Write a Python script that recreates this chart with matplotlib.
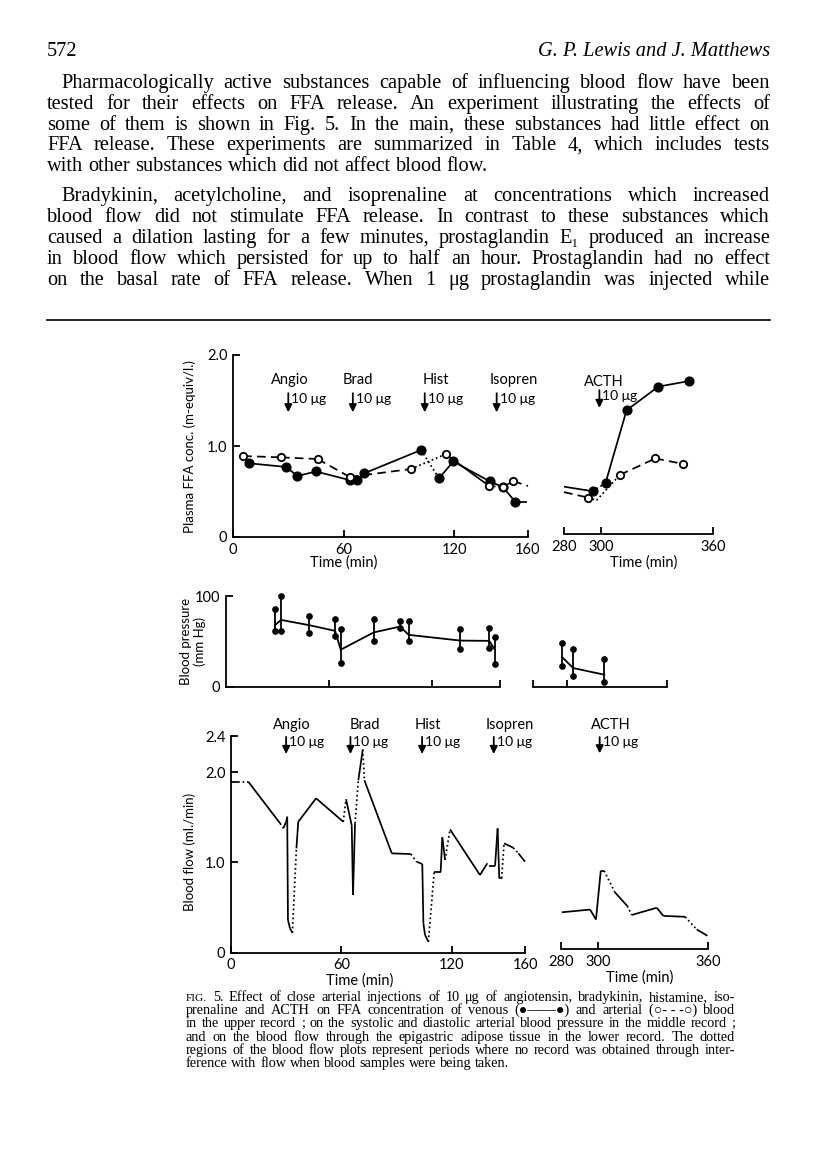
import numpy as np
import matplotlib.pyplot as plt

W, H = 816, 1164
SERIF = ['Liberation Serif', 'DejaVu Serif']
SANS = ['Lato', 'DejaVu Sans']
plt.rcParams['font.family'] = SANS

# ---------------- data ----------------
inj_t = [30, 65, 104, 143]
inj_names = ['Angio', 'Brad', 'Hist', 'Isopren']
acth_t = 299

# plasma FFA, venous (filled) and arterial (open), first record 0-160 min
ven_t = [8.6, 28.8, 34.9, 45.0, 63.3, 67.5, 71.2, 102.0, 111.7, 119.5, 139.4, 146.6, 152.9, 159.5]
ven_v = [0.81, 0.77, 0.67, 0.72, 0.625, 0.625, 0.70, 0.956, 0.645, 0.83, 0.61, 0.546, 0.39, 0.39]
ven_mark = [1] * 13 + [0]
ven_ls = ['-'] * 7 + [':'] + ['-'] * 5
art_t = [5.5, 26.0, 45.9, 63.3, 96.5, 115.3, 139.0, 146.6, 152.0, 160.0]
art_v = [0.89, 0.875, 0.857, 0.66, 0.747, 0.91, 0.56, 0.55, 0.615, 0.56]
art_mark = [1] * 9 + [0]
art_ls = ['--', '--', '--', '--', ':', '-', ':', '-', '--']

# plasma FFA, ACTH period 280-360 min
ven2_t = [280, 295.4, 302.3, 313.6, 330.7, 347.0]
ven2_v = [0.52, 0.47, 0.56, 1.36, 1.62, 1.68]
ven2_mark = [0, 1, 1, 1, 1, 1]
ven2_ls = ['-', ':', '-', '-', '-']
art2_t = [280, 293.0, 297.5, 310.0, 329.0, 344.0]
art2_v = [0.46, 0.40, 0.37, 0.65, 0.83, 0.77]
art2_mark = [0, 1, 0, 1, 1, 1]
art2_ls = ['--', ':', ':', '--', '--']

# blood pressure (mm Hg): systolic, diastolic, mean
bp_t = [28.6, 32.2, 48.4, 63.7, 67.0, 86.3, 101.6, 106.7, 136.9, 153.7, 157.0]
bp_sys = [85.8, 100, 78, 75, 64, 74.5, 72, 72, 63.5, 65.3, 54.7]
bp_dia = [61.7, 61.7, 59, 55.5, 26.3, 51, 64.6, 50.7, 42, 43.4, 25.5]
bp_mean = [68, 73.7, 68, 61.7, 41, 60, 66.4, 57.3, 51, 50.7, 41]
bp2_t = [297.4, 304.0, 322.6]
bp2_sys = [48.2, 41.6, 30.7]
bp2_dia = [23.4, 11.7, 5.1]
bp2_mean = [32.8, 20.8, 13.5]

# blood flow (ml./min); style of the piece leading to the next point (None = gap)
flow_t = [0.0, 4.0, 9.4, 26.7, 28.5, 30.0, 30.6, 31.0, 32.1, 33.4, 35.6, 36.6, 46.3, 61.1,
          62.6, 65.7, 66.4, 67.5, 69.3, 71.7, 72.6, 87.5, 97.8, 101.0, 104.1, 104.7, 105.6,
          107.4, 110.6, 114.1, 115.0, 116.5, 119.2, 135.5, 139.5, 140.6, 143.7, 145.1, 146.0,
          147.3, 148.6, 153.6, 156.4, 160.0]
flow_v = [1.894, 1.894, 1.894, 1.433, 1.378, 1.45, 1.506, 0.362, 0.27, 0.22, 1.156, 1.45, 1.71, 1.45,
          1.70, 1.41, 0.64, 1.43, 1.91, 2.25, 1.91, 1.10, 1.093, 1.008, 0.982, 0.325, 0.196,
          0.122, 0.897, 0.897, 1.278, 1.027, 1.366, 0.86, 0.99, 0.96, 0.96, 1.377, 0.824,
          0.824, 1.211, 1.163, 1.10, 1.008]
flow_ls = ['-', ':', '-', ':', '-', '-', '-', '-', '-', ':', '-', '-', '-', ':',
           '-', '-', '-', ':', '-', ':', '-', '-', ':', '-', '-', '-', '-',
           ':', '-', '-', '-', ':', '-', '-', None, '-', '-', '-', '-',
           ':', '-', ':', '-']
flow2_t = [280.4, 295.8, 299.0, 301.6, 303.4, 309.3, 316.0, 318.4, 332.0, 335.6, 347.4, 353.7, 359.5]
flow2_v = [0.41, 0.44, 0.33, 0.87, 0.87, 0.63, 0.48, 0.38, 0.46, 0.37, 0.36, 0.22, 0.15]
flow2_ls = ['-', '-', '-', '-', ':', '-', ':', '-', '-', '-', ':', '-']

header_left = '572'
header_right = 'G. P. Lewis and J. Matthews'
para1 = [
    'Pharmacologically active substances capable of influencing blood flow have been',
    'tested for their effects on FFA release.  An experiment illustrating the effects of',
    'some of them is shown in Fig. 5.  In the main, these substances had little effect on',
    'FFA release.  These experiments are summarized in Table 4, which includes tests',
    'with other substances which did not affect blood flow.',
]
para2 = [
    'Bradykinin, acetylcholine, and isoprenaline at concentrations which increased',
    'blood flow did not stimulate FFA release.  In contrast to these substances which',
    'caused a dilation lasting for a few minutes, prostaglandin E\u2081 produced an increase',
    'in blood flow which persisted for up to half an hour.  Prostaglandin had no effect',
    'on the basal rate of FFA release.  When 1 \u03bcg prostaglandin was injected while',
]
caption = [
    'FIG. 5.  Effect of close arterial injections of 10 \u03bcg of angiotensin, bradykinin, histamine, iso-',
    'prenaline and ACTH on FFA concentration of venous (\u25cf\u2014\u2014\u25cf) and arterial (\u25cb-\u00a0-\u00a0-\u25cb) blood',
    'in the upper record ; on the systolic and diastolic arterial blood pressure in the middle record ;',
    'and on the blood flow through the epigastric adipose tissue in the lower record.  The dotted',
    'regions of the blood flow plots represent periods where no record was obtained through inter-',
    'ference with flow when blood samples were being taken.',
]

# ---------------- page ----------------
fig = plt.figure(figsize=(W / 100, H / 100), dpi=100)
renderer = fig.canvas.get_renderer()


def ax_px(l, t, r, b):
    return fig.add_axes([l / W, 1 - b / H, (r - l) / W, (b - t) / H])


def words_of(line):
    return [w for w in line.split(' ') if w]


def word_size(w, size):
    return size * 0.8 if w == 'FIG.' else size


def natural_width(line, size):
    tot = 0
    ws = words_of(line)
    for w in ws:
        t = fig.text(0, 0, w, fontsize=word_size(w, size), family=SERIF)
        tot += t.get_window_extent(renderer).width
        t.remove()
    return tot + (len(ws) - 1) * size * 100 / 72 * 0.25


def fit_size(lines, widths, ref=12.0):
    return min(ref * wd / natural_width(ln, ref) for ln, wd in zip(lines, widths))


def put_line(line, x0, x1, yb, size, justify):
    words = words_of(line)
    objs = [fig.text(0, 1 - yb / H, w, fontsize=word_size(w, size), family=SERIF, va='baseline')
            for w in words]
    widths = [o.get_window_extent(renderer).width for o in objs]
    if justify and len(words) > 1:
        gap = (x1 - x0 - sum(widths)) / (len(words) - 1)
    else:
        gap = size * 100 / 72 * 0.25
    x = x0
    for o, w in zip(objs, widths):
        o.set_x(x / W)
        x += w + gap


body_lines = para1[:-1] + para2
body_w = [770 - (61 if ln in (para1[0], para2[0]) else 47) for ln in body_lines]
body_size = fit_size(body_lines, body_w) * 0.94
cap_size = fit_size(caption[:-1], [735 - 186] * (len(caption) - 1)) * 0.97

fig.text(47 / W, 1 - 56 / H, header_left, fontsize=body_size, family=SERIF, va='baseline')
fig.text(770 / W, 1 - 56 / H, header_right, fontsize=body_size, family=SERIF, style='italic',
         va='baseline', ha='right')

for i, line in enumerate(para1):
    put_line(line, 61 if i == 0 else 47, 770, 88 + i * 20.8, body_size, i < len(para1) - 1)
for i, line in enumerate(para2):
    put_line(line, 61 if i == 0 else 47, 770, 201 + i * 20.9, body_size, True)

fig.add_artist(plt.Line2D([47 / W, 770 / W], [1 - 320 / H] * 2, color='k', lw=1.2))

for i, line in enumerate(caption):
    put_line(line, 186, 735, 1001 + i * 13.2, cap_size, i < len(caption) - 1)


# ---------------- helpers ----------------
def seg_plot(ax, t, v, styles, lw=1.25):
    for i, s in enumerate(styles):
        if s is None:
            continue
        kw = dict(color='k', lw=lw, solid_capstyle='butt', clip_on=False)
        if s == '--':
            kw['dashes'] = (5, 3)
        elif s == ':':
            kw['dashes'] = (1, 1.6)
        ax.plot(t[i:i + 2], v[i:i + 2], **kw)


def marks(ax, t, v, mask, filled):
    tt = [a for a, m in zip(t, mask) if m]
    vv = [b for b, m in zip(v, mask) if m]
    if filled:
        ax.plot(tt, vv, 'o', color='k', ms=6.3, zorder=5, clip_on=False)
    else:
        ax.plot(tt, vv, 'o', mfc='white', mec='k', mew=1.3, ms=5.3, zorder=6, clip_on=False)


def style_axes(ax, left=True):
    for s in ['top', 'right']:
        ax.spines[s].set_visible(False)
    ax.spines['left'].set_visible(left)
    for s in ['left', 'bottom']:
        ax.spines[s].set_linewidth(1.3)
    ax.tick_params(direction='in', length=5, width=1.3, labelsize=10.5, pad=4)
    if not left:
        ax.tick_params(axis='y', left=False, labelleft=False)
    ax.set_facecolor('none')


def inject(ax, t, name, y_lab, y_top, y_bot, lab_dx, dose_dx=1.6):
    ax.text(t + lab_dx, y_lab, name, ha='center', va='center', fontsize=10.5, clip_on=False)
    ax.annotate('', xy=(t, y_bot), xytext=(t, y_top), annotation_clip=False,
                arrowprops=dict(arrowstyle='-|>,head_width=0.22,head_length=0.45', color='k',
                                lw=1.3, shrinkA=0, shrinkB=0))
    ax.text(t + dose_dx, y_top - (y_top - y_bot) * 0.3, '10 \u03bcg', ha='left', va='center',
            fontsize=10, clip_on=False, family=SANS)


# ---------------- FFA ----------------
ax1 = ax_px(233, 355, 528, 537)
style_axes(ax1)
ax1.set_xlim(0, 160)
ax1.set_ylim(0, 2)
ax1.set_xticks([0, 60, 120, 160])
ax1.set_xticklabels(['0', '60', '120', '160'])
ax1.set_yticks([0, 1, 2])
ax1.set_yticklabels(['0', '1.0', '2.0'])
seg_plot(ax1, art_t, art_v, art_ls)
seg_plot(ax1, ven_t, ven_v, ven_ls)
marks(ax1, ven_t, ven_v, ven_mark, True)
marks(ax1, art_t, art_v, art_mark, False)
for t, n, dx in zip(inj_t, inj_names, [1.0, 2.5, 6.0, 9.5]):
    inject(ax1, t, n, 1.725, 1.58, 1.37, dx)
fig.text(190 / W, 1 - 447 / H, 'Plasma FFA conc. (m-equiv/l.)', rotation=90, ha='center',
         va='center', fontsize=9.5)
ax1.text(60, -0.28, 'Time (min)', ha='center', va='center', fontsize=10.5)

ax2 = ax_px(564, 352, 713, 534)
style_axes(ax2, left=False)
ax2.set_xlim(280, 360)
ax2.set_ylim(0, 2)
ax2.set_xticks([280, 300, 360])
ax2.set_xticklabels(['280', '300', '360'])
seg_plot(ax2, art2_t, art2_v, art2_ls)
seg_plot(ax2, ven2_t, ven2_v, ven2_ls)
marks(ax2, ven2_t, ven2_v, ven2_mark, True)
marks(ax2, art2_t, art2_v, art2_mark, False)
inject(ax2, acth_t, 'ACTH', 1.67, 1.58, 1.385, 2.5)
ax2.text(323, -0.31, 'Time (min)', ha='center', va='center', fontsize=10.5)

# ---------------- blood pressure ----------------
ax3 = ax_px(226, 596, 500, 687)
style_axes(ax3)
ax3.set_xlim(0, 160)
ax3.set_ylim(0, 100)
ax3.set_xticks([60, 120, 160])
ax3.set_xticklabels([])
ax3.set_yticks([0, 100])
ax3.set_yticklabels(['0', '100'])
ax3.vlines(bp_t, bp_dia, bp_sys, color='k', lw=1.3)
ax3.plot(bp_t, bp_sys, 'o', color='k', ms=3.8, clip_on=False)
ax3.plot(bp_t, bp_dia, 'o', color='k', ms=3.8, clip_on=False)
ax3.plot(bp_t, bp_mean, '-', color='k', lw=1.3)
fig.text(186 / W, 1 - 641 / H, 'Blood pressure', rotation=90, ha='center', va='center',
         fontsize=9.5)
fig.text(200 / W, 1 - 641 / H, '(mm Hg)', rotation=90, ha='center', va='center', fontsize=9.5)

ax4 = ax_px(533, 596, 667, 687)
style_axes(ax4, left=False)
ax4.set_xlim(280, 360)
ax4.set_ylim(0, 100)
ax4.set_xticks([280, 300, 360])
ax4.set_xticklabels([])
ax4.vlines(bp2_t, bp2_dia, bp2_sys, color='k', lw=1.3)
ax4.plot(bp2_t, bp2_sys, 'o', color='k', ms=3.8, clip_on=False)
ax4.plot(bp2_t, bp2_dia, 'o', color='k', ms=3.8, clip_on=False)
ax4.plot(bp2_t, bp2_mean, '-', color='k', lw=1.3)

# ---------------- blood flow ----------------
ax5 = ax_px(231, 736, 525, 952.7)
style_axes(ax5)
ax5.set_xlim(0, 160)
ax5.set_ylim(0, 2.4)
ax5.set_xticks([0, 60, 120, 160])
ax5.set_xticklabels(['0', '60', '120', '160'])
ax5.set_yticks([0, 1, 2, 2.4])
ax5.set_yticklabels(['0', '1.0', '2.0', '2.4'])
seg_plot(ax5, flow_t, flow_v, flow_ls)
for t, n, dx in zip(inj_t, inj_names, [3.2, 8.0, 3.0, 8.6]):
    inject(ax5, t, n, 2.52, 2.39, 2.20, dx)
fig.text(190 / W, 1 - 852 / H, 'Blood flow (ml./min)', rotation=90, ha='center',
         va='center', fontsize=9.5)
ax5.text(70, -0.31, 'Time (min)', ha='center', va='center', fontsize=10.5)

ax6 = ax_px(561, 732.6, 708.3, 949.3)
style_axes(ax6, left=False)
ax6.set_xlim(280, 360)
ax6.set_ylim(0, 2.4)
ax6.set_xticks([280, 300, 360])
ax6.set_xticklabels(['280', '300', '360'])
seg_plot(ax6, flow2_t, flow2_v, flow2_ls)
inject(ax6, 301, 'ACTH', 2.48, 2.35, 2.17, 6.0)
ax6.text(323, -0.31, 'Time (min)', ha='center', va='center', fontsize=10.5)

fig.savefig('out.png', dpi=100, facecolor='white')
